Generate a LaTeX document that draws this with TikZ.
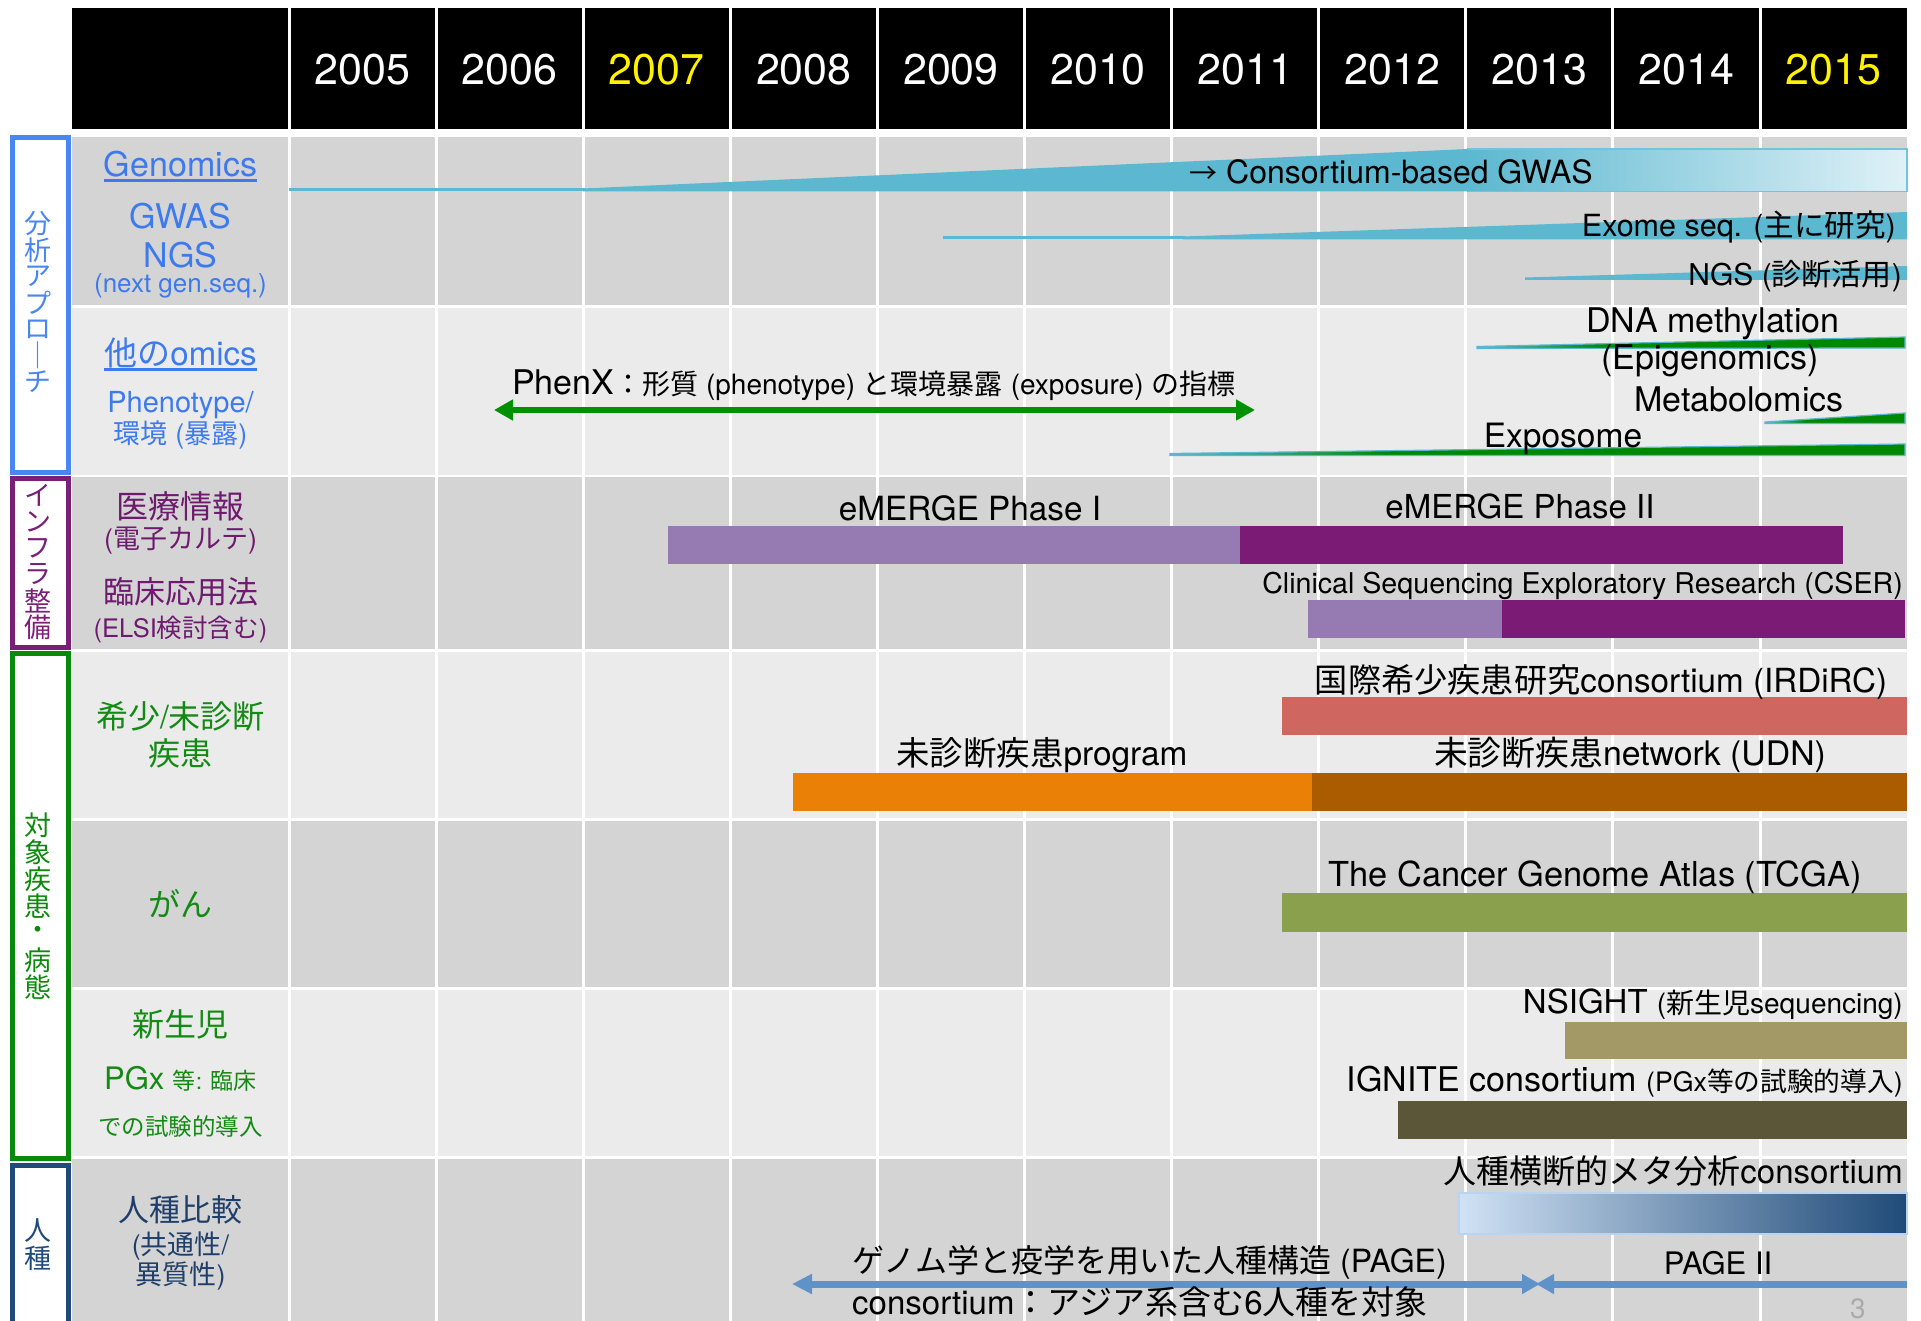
\documentclass[tikz,border=0pt]{standalone}
\usepackage{fontspec}
\setmainfont{TeX Gyre Heros}
\newfontfamily\jpf{Noto Sans CJK JP}
\newcommand\J[1]{{\jpf #1}}
\newcommand\fsz[1]{\fontsize{#1}{#1}\selectfont}
\usetikzlibrary{arrows.meta}
\definecolor{rowdark}{RGB}{212,212,212}
\definecolor{rowlight}{RGB}{235,235,235}
\definecolor{cblue}{RGB}{72,134,244}
\definecolor{tblue}{RGB}{60,122,238}
\definecolor{cpurple}{RGB}{122,30,120}
\definecolor{tpurple}{RGB}{110,26,110}
\definecolor{cgreen}{RGB}{10,138,10}
\definecolor{tgreen}{RGB}{19,138,19}
\definecolor{cnavy}{RGB}{31,74,122}
\definecolor{tnavy}{RGB}{31,63,106}
\definecolor{wteal}{RGB}{91,184,208}
\definecolor{wtealb}{RGB}{112,196,220}
\definecolor{wlight}{RGB}{224,241,247}
\definecolor{wgreen}{RGB}{0,136,0}
\definecolor{phgreen}{RGB}{0,145,0}
\definecolor{pageblue}{RGB}{94,146,201}
\definecolor{emone}{RGB}{149,123,177}
\definecolor{emtwo}{RGB}{123,27,118}
\definecolor{irdirc}{RGB}{207,103,96}
\definecolor{udp}{RGB}{235,128,6}
\definecolor{udn}{RGB}{171,91,0}
\definecolor{tcga}{RGB}{138,160,76}
\definecolor{nsight}{RGB}{163,153,102}
\definecolor{ignite}{RGB}{92,86,57}
\definecolor{metaL}{RGB}{208,226,245}
\definecolor{metaR}{RGB}{31,74,120}
\definecolor{metaB}{RGB}{185,212,238}
\definecolor{pnum}{RGB}{170,170,170}
\pgfdeclarehorizontalshading{tealgreen}{100bp}{color(0bp)=(wteal); color(25bp)=(wteal); color(40bp)=(wgreen); color(100bp)=(wgreen)}
\tikzset{
  lbl/.style={inner sep=0pt, anchor=base},
  vchar/.style={inner sep=0pt, anchor=center, font=\jpf\fsz{27}},
  catbox/.style={line width=5pt, fill=white},
  yearlbl/.style={inner sep=0pt, anchor=base, font=\fsz{43}},
  bar/.style={draw=none},
}
\begin{document}
\begin{tikzpicture}[x=1pt,y=-1pt]
\useasboundingbox (0,0) rectangle (1921,1321);
\clip (0,0) rectangle (1921,1321);
\fill[white] (0,0) rectangle (1921,1321);
% header
\fill[black] (72,8) rectangle (1907,129);
% rows
\fill[rowdark]  (72,137) rectangle (1907,305);
\fill[rowlight] (72,308) rectangle (1907,475);
\fill[rowdark]  (72,477) rectangle (1907,649);
\fill[rowlight] (72,652) rectangle (1907,818);
\fill[rowdark]  (72,821) rectangle (1907,987);
\fill[rowlight] (72,990) rectangle (1907,1156);
\fill[rowdark]  (72,1159) rectangle (1907,1330);
% white grid lines
\foreach \k in {0,...,10} \fill[white] ({289+147.1*\k-1.5},0) rectangle ({289+147.1*\k+1.5},1330);
% years
\foreach \yr/\col [count=\k from 0] in {2005/white,2006/white,2007/yellow,2008/white,2009/white,2010/white,2011/white,2012/white,2013/white,2014/white,2015/yellow}
  \node[yearlbl, text=\col] (y\yr) at ({362.55+147.1*\k},85) {\yr};
% category boxes
\draw[catbox, draw=cblue] (12.5,137.5) rectangle (68.5,472.5);
\draw[catbox, draw=cpurple] (12.5,478.5) rectangle (68.5,647.5);
\draw[catbox, draw=cgreen] (12.5,653.5) rectangle (68.5,1158.5);
\draw[catbox, draw=cnavy] (12.5,1165.5) rectangle (68.5,1345);
\foreach \c [count=\i from 0] in {分,析,ア,プ,ロ,｜,チ}
  \node[vchar, text=cblue] (va\i) at (38,{224+26.3*\i}) {\c};
\foreach \c [count=\i from 0] in {イ,ン,フ,ラ,整,備}
  \node[vchar, text=cpurple] (vb\i) at (38,{495+26.4*\i}) {\c};
\foreach \c [count=\i from 0] in {対,象,疾,患,・,病,態}
  \node[vchar, text=cgreen] (vc\i) at (38,{825+27*\i}) {\c};
\foreach \c [count=\i from 0] in {人,種}
  \node[vchar, text=cnavy] (vd\i) at (38,{1231+27.5*\i}) {\c};
% left labels
\node[lbl, text=tblue, font=\fsz{34}] (genomics) at (180.5,177) {Genomics};
\draw[tblue, line width=2.5pt] ([yshift=-3.5pt]genomics.base west) -- ([yshift=-3.5pt]genomics.base east);
\node[lbl, text=tblue, font=\fsz{34}] (gwas) at (180.5,229) {GWAS};
\node[lbl, text=tblue, font=\fsz{34}] (ngs) at (180.5,268) {NGS};
\node[lbl, text=tblue, font=\fsz{26}] (ngsnote) at (180.5,293) {(next gen.seq.)};
\node[lbl, text=tblue, font=\fsz{33}] (omics) at (180.5,366) {\J{他の}omics};
\draw[tblue, line width=2.5pt] ([yshift=-3.5pt]omics.base west) -- ([yshift=-3.5pt]omics.base east);
\node[lbl, text=tblue, font=\fsz{29}] (pheno) at (180.5,412) {Phenotype/};
\node[lbl, text=tblue, font=\fsz{27}] (env) at (180.5,443) {\J{環境} (\J{暴露})};
\node[lbl, text=tpurple, font=\fsz{32}] (iryo) at (180.5,518) {\J{医療情報}};
\node[lbl, text=tpurple, font=\fsz{27}] (emr) at (180.5,548) {(\J{電子カルテ})};
\node[lbl, text=tpurple, font=\fsz{31}] (rinsho) at (180.5,603) {\J{臨床応用法}};
\node[lbl, text=tpurple, font=\fsz{25.5}] (elsi) at (180.5,637) {(ELSI\J{検討含む})};
\node[lbl, text=tgreen, font=\fsz{32}] (kisho) at (180.5,728) {\J{希少}/\J{未診断}};
\node[lbl, text=tgreen, font=\fsz{32}] (shikkan) at (180.5,765) {\J{疾患}};
\node[lbl, text=tgreen, font=\fsz{32}] (gan) at (180.5,916) {\J{がん}};
\node[lbl, text=tgreen, font=\fsz{32}] (shinsei) at (180.5,1036) {\J{新生児}};
\node[lbl, text=tgreen] (pgx) at (180.5,1089) {{\fsz{31}PGx }{\fsz{23}\J{等}: \J{臨床}}};
\node[lbl, text=tgreen, font=\fsz{23.5}] (dono) at (180.5,1135) {\J{での試験的導入}};
\node[lbl, text=tnavy, font=\fsz{31}] (jinshu) at (180.5,1221) {\J{人種比較}};
\node[lbl, text=tnavy, font=\fsz{27}] (kyotsu) at (180.5,1254) {(\J{共通性}/};
\node[lbl, text=tnavy, font=\fsz{27}] (ishitsu) at (180.5,1284) {\J{異質性})};
% ---- wedges
\fill[wteal] (289,188.5) rectangle (585,191.5);
\fill[wteal] (583,191.5) -- (583,188.5) -- (1468,149) -- (1468,191.5) -- cycle;
\shade[left color=wteal, right color=wlight] (1467,149) rectangle (1907,191.5);
\draw[wtealb, line width=1.5pt] (1468,149) -- (1907,149) -- (1907,191.5) -- (1468,191.5);
\fill[wteal] (943,236.5) rectangle (1185,239.5);
\fill[wteal] (1183,239.5) -- (1183,236.5) -- (1907,212) -- (1907,239.5) -- cycle;
\fill[wteal] (1525,277.5) -- (1907,266) -- (1907,280) -- (1525,280) -- cycle;
\shade[shading=tealgreen, draw=wteal, line width=1.2pt] (1477,346.5) -- (1905,337) -- (1905,348) -- (1477,348.5) -- cycle;
\shade[shading=tealgreen, draw=wteal, line width=1.2pt] (1765,422) -- (1905,413) -- (1905,423.5) -- (1765,423.5) -- cycle;
\shade[shading=tealgreen, draw=wteal, line width=1.2pt] (1170,453.5) -- (1905,444) -- (1905,455.5) -- (1170,455.5) -- cycle;
% ---- bars
\fill[emone] (668,526) rectangle (1240,564);
\fill[emtwo] (1240,526) rectangle (1843,564);
\fill[emone] (1308,600) rectangle (1502,638);
\fill[emtwo] (1502,600) rectangle (1905,638);
\fill[irdirc] (1282,697) rectangle (1907,735);
\fill[udp] (793,773) rectangle (1312,811);
\fill[udn] (1312,773) rectangle (1907,811);
\fill[tcga] (1282,893) rectangle (1907,932);
\fill[nsight] (1565,1022) rectangle (1907,1059);
\fill[ignite] (1398,1101) rectangle (1907,1139);
\shade[left color=metaL, right color=metaR] (1459,1193) rectangle (1907,1234);
\draw[metaB, line width=1.5pt] (1459,1193) rectangle (1907,1234);
% ---- arrows
\coordinate (phL) at (494,410);
\coordinate (phR) at (1255,410);
\draw[phgreen, line width=6pt, {Triangle[length=19pt,width=20pt]}-{Triangle[length=19pt,width=20pt]}] (phL) -- (phR);
\coordinate (pgL) at (792,1284);
\coordinate (pgM) at (1540,1284);
\coordinate (pgN) at (1536,1284);
\coordinate (pgR) at (1907,1284);
\draw[pageblue, line width=7pt, {Triangle[length=20pt,width=19pt]}-{Triangle[length=18pt,width=19pt]}] (pgL) -- (pgM);
\draw[pageblue, line width=7pt, {Triangle[length=18pt,width=19pt]}-] (pgN) -- (pgR);
% ---- timeline labels
\node[lbl, font=\fsz{32}] (gwaslbl) at (1391,184) {{\fsz{28}\J{→}} Consortium-based GWAS};
\node[lbl, anchor=base east, font=\fsz{30.5}] (exome) at (1896,237) {Exome seq. (\J{主に研究})};
\node[lbl, anchor=base east, font=\fsz{30}] (ngsdx) at (1902,286) {NGS (\J{診断活用})};
\node[lbl, font=\fsz{34}] (dna) at (1713,333) {DNA methylation};
\node[lbl, font=\fsz{34}] (epi) at (1710,370) {(Epigenomics)};
\node[lbl, font=\fsz{34}] (metab) at (1739,411) {Metabolomics};
\node[lbl, font=\fsz{33.5}] (expo) at (1563,447) {Exposome};
\node[lbl, anchor=base west] (phenx) at (512,394) {{\fsz{34}PhenX}{\fsz{28}\J{：形質} (phenotype) \J{と環境暴露} (exposure) \J{の指標}}};
\node[lbl, font=\fsz{33.3}] (em1) at (970,520) {eMERGE Phase I};
\node[lbl, font=\fsz{33}] (em2) at (1520,518) {eMERGE Phase II};
\node[lbl, anchor=base east, font=\fsz{28.6}] (cser) at (1903,593) {Clinical Sequencing Exploratory Research (CSER)};
\node[lbl, font=\fsz{33.2}] (irdirclbl) at (1601,692) {\J{国際希少疾患研究}consortium (IRDiRC)};
\node[lbl, font=\fsz{33.4}] (udplbl) at (1042,765) {\J{未診断疾患}program};
\node[lbl, font=\fsz{33.8}] (udnlbl) at (1630,765) {\J{未診断疾患}network (UDN)};
\node[lbl, font=\fsz{34.4}] (tcgalbl) at (1595,886) {The Cancer Genome Atlas (TCGA)};
\node[lbl, anchor=base east] (nsightlbl) at (1903,1013) {{\fsz{33}NSIGHT }{\fsz{28}(\J{新生児}sequencing)}};
\node[lbl, anchor=base east] (ignitelbl) at (1903,1091) {{\fsz{34}IGNITE consortium }{\fsz{26.7}(PGx\J{等の試験的導入})}};
\node[lbl, anchor=base east, font=\fsz{33}] (metalbl) at (1903,1183) {\J{人種横断的メタ分析}consortium};
\node[lbl, anchor=base west, font=\fsz{32}] (page1) at (852,1272) {\J{ゲノム学と疫学を用いた人種構造} (PAGE)};
\node[lbl, anchor=base west, font=\fsz{33}] (page2) at (852,1314) {consortium\J{：アジア系含む}6\J{人種を対象}};
\node[lbl, font=\fsz{31}] (page3) at (1718,1274) {PAGE II};
\node[lbl, font=\fsz{28}, text=pnum] (pnumlbl) at (1858,1318) {3};
\end{tikzpicture}
\end{document}
